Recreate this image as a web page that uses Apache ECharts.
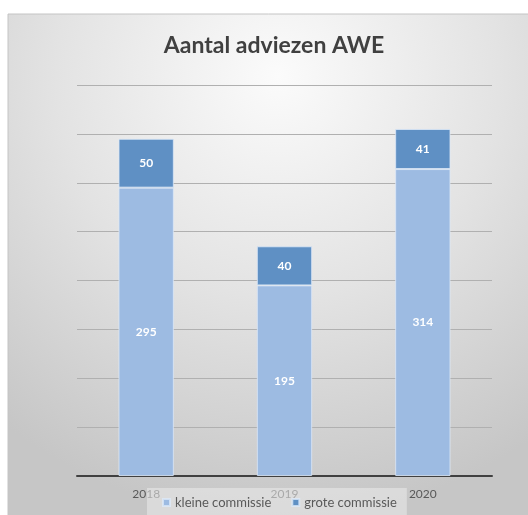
<!DOCTYPE html>
<html>
<head>
<meta charset="utf-8">
<script src="https://cdn.jsdelivr.net/npm/echarts@6/dist/echarts.min.js"></script>
<style>
  html, body { margin: 0; padding: 0; background: #fff; }
  #main { width: 528px; height: 515px; }
</style>
</head>
<body>
<div id="main"></div>
<script>
// data
const years = ['2018', '2019', '2020']
const kleineCommissie = [295, 195, 314]
const groteCommissie = [50, 40, 41]
const seriesNames = ['kleine commissie', 'grote commissie']

const myChart = echarts.init(document.getElementById('main'))

const labelStyle = {
  show: true,
  position: 'inside',
  color: '#ffffff',
  fontSize: 12,
  fontWeight: 'bold',
  fontFamily: 'Lato'
}

const option = {
  backgroundColor: '#ffffff',
  textStyle: { fontFamily: 'Lato' },
  graphic: [
    {
      type: 'rect',
      z: -10,
      shape: { x: 8, y: 14, width: 540, height: 520 },
      style: {
        fill: {
          type: 'radial', x: 0.5, y: 0.12, r: 0.85,
          colorStops: [
            { offset: 0, color: '#fbfbfb' },
            { offset: 0.5, color: '#e3e3e3' },
            { offset: 1, color: '#c6c6c6' }
          ]
        },
        stroke: '#c4c4c4',
        lineWidth: 1
      }
    }
  ],
  title: {
    text: 'Aantal adviezen AWE',
    left: 269,
    textAlign: 'center',
    top: 29,
    textStyle: { color: '#404040', fontSize: 23, fontWeight: 'bold', fontFamily: 'Lato' }
  },
  legend: {
    data: seriesNames,
    left: 147,
    top: 488,
    itemWidth: 7,
    itemHeight: 7,
    itemGap: 20,
    padding: [8, 10, 8, 15],
    backgroundColor: 'rgba(235,235,235,0.55)',
    icon: 'rect',
    textStyle: { color: '#595959', fontSize: 13, fontFamily: 'Lato' }
  },
  grid: { left: 77, right: 36, top: 85, bottom: 39 },
  xAxis: {
    type: 'category',
    data: years,
    axisLine: { lineStyle: { color: '#404040', width: 2 } },
    axisTick: { show: false },
    axisLabel: { color: '#595959', fontSize: 12, margin: 12, fontFamily: 'Lato' }
  },
  yAxis: {
    type: 'value',
    min: 0,
    max: 400,
    interval: 50,
    axisLabel: { show: false },
    axisLine: { show: false },
    axisTick: { show: false },
    splitLine: { lineStyle: { color: '#b0b0b0', width: 1 } }
  },
  series: [
    {
      name: seriesNames[0],
      type: 'bar',
      stack: 'total',
      barWidth: '40%',
      data: kleineCommissie,
      itemStyle: { color: '#9dbbe2', borderColor: 'rgba(220,232,248,0.8)', borderWidth: 1 },
      label: labelStyle
    },
    {
      name: seriesNames[1],
      type: 'bar',
      stack: 'total',
      barWidth: '40%',
      data: groteCommissie,
      itemStyle: { color: '#5f90c4', borderColor: 'rgba(220,232,248,0.8)', borderWidth: 1 },
      label: labelStyle
    }
  ]
}

myChart.setOption(option)
</script>
</body>
</html>
